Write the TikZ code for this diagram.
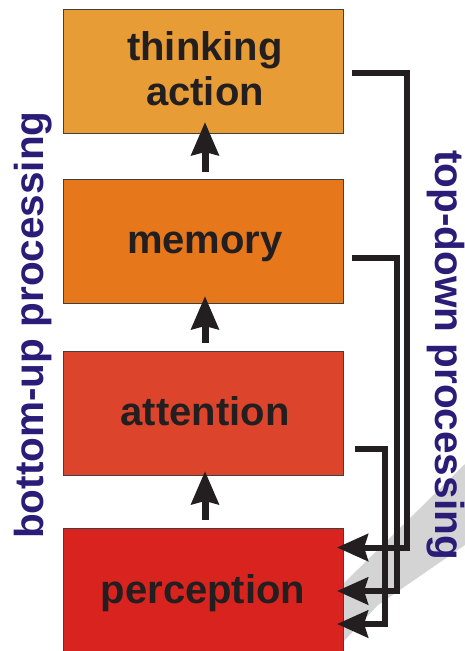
\documentclass[tikz,border=0pt]{standalone}
\usepackage{fontspec}
\setmainfont{Liberation Sans}
\usetikzlibrary{arrows.meta}
\definecolor{boxA}{HTML}{E89C35}
\definecolor{boxB}{HTML}{E6781B}
\definecolor{boxC}{HTML}{DC452B}
\definecolor{boxD}{HTML}{D9231E}
\definecolor{ink}{HTML}{231F20}
\definecolor{side}{HTML}{2B1C78}
\definecolor{band}{HTML}{D4D4D4}
\begin{document}
\begin{tikzpicture}[x=1pt,y=-1pt,
  stage/.style={draw=black!75, line width=0.8pt, minimum width=280pt, minimum height=124pt, inner sep=0pt, outer sep=0pt},
  lbl/.style={anchor=base, text=ink, font=\fontsize{40}{45}\selectfont\bfseries, inner sep=0pt},
  sidelbl/.style={anchor=base, text=side, font=\fontsize{40.5}{45}\selectfont\bfseries, inner sep=0pt},
  upflow/.style={draw=ink, line width=7pt, -{Stealth[length=33pt,width=27pt,inset=3pt]}},
  backflow/.style={draw=ink, line width=6pt, line join=miter, -{Stealth[length=31pt,width=27pt,inset=4pt]}},
]
\clip (0,0) rectangle (465,651);
\fill[white] (0,0) rectangle (465,651);
% gray diagonal band
\fill[band] (465,464) -- (465,545) -- (378,605) -- (343,642) -- (343,584) -- cycle;
% stages
\node[stage, fill=boxA] (think) at (203,71) {};
\node[stage, fill=boxB] (mem) at (203,241) {};
\node[stage, fill=boxC] (att) at (203,413) {};
\node[stage, fill=boxD, minimum height=134pt] (perc) at (203,595) {};
% stage texts
\node[lbl] (t1) at (205,60) {thinking};
\node[lbl] (t2) at (205,105) {action};
\node[lbl] (t3) at (205,253) {memory};
\node[lbl] (t4) at (205,425) {attention};
\node[lbl] (t5) at (203,603) {perception};
% bottom-up arrows
\draw[upflow] ([xshift=2pt,yshift=7pt]mem.north) -- ([xshift=2pt,yshift=11pt]think.south);
\draw[upflow] ([xshift=2pt,yshift=8pt]att.north) -- ([xshift=2pt,yshift=7pt]mem.south);
\draw[upflow] ([xshift=2pt,yshift=8pt]perc.north) -- ([xshift=2pt,yshift=4pt]att.south);
% top-down connectors
\draw[backflow] ([xshift=9pt,yshift=-2pt]think.east) -- ++(55,0) |- ([xshift=-6pt,yshift=47.5pt]perc.east);
\draw[backflow] ([xshift=9pt,yshift=-17pt]mem.east) -- ++(45,0) |- ([xshift=-6pt,yshift=4pt]perc.east);
\draw[backflow] ([xshift=12pt,yshift=-36pt]att.east) -- ++(29.5,0) |- ([xshift=-6pt,yshift=-29pt]perc.east);
% side labels
\node[sidelbl, rotate=90] (bu) at (43,325) {bottom-up processing};
\node[sidelbl, rotate=-90] (td) at (435.5,355) {top-down processing};
\end{tikzpicture}
\end{document}
